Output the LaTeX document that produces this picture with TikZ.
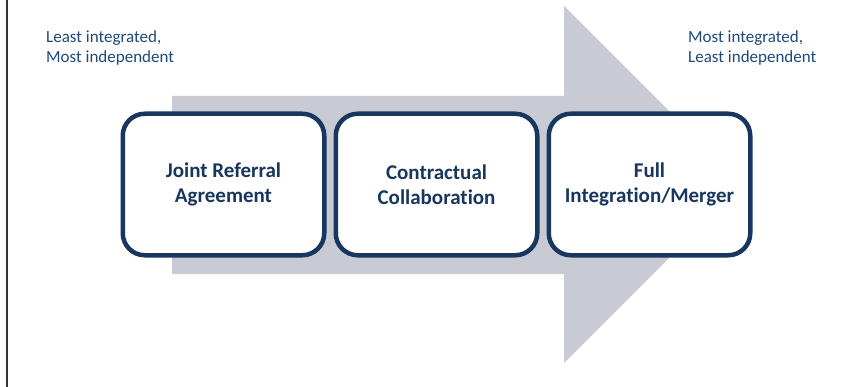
\documentclass[tikz,border=0pt]{standalone}
\usepackage{fontspec}
\setmainfont{Carlito}[Ligatures={NoCommon,TeX}]
\definecolor{navy}{RGB}{23,55,94}
\definecolor{txtblue}{RGB}{31,73,125}
\definecolor{arrowgray}{RGB}{201,203,212}
\tikzset{
  stagebox/.style={draw=navy, line width=4.5pt, fill=white, rounded corners=22pt,
    minimum width=201.5pt, minimum height=141.5pt, align=center, text=navy,
    font=\bfseries\fontsize{21}{25}\selectfont, inner sep=0pt},
  cornertext/.style={anchor=west, align=left, text=txtblue, inner sep=0pt,
    font=\fontsize{17}{20}\selectfont}
}
\begin{document}
\begin{tikzpicture}[x=1pt, y=-1pt]
\useasboundingbox (0,0) rectangle (866,387);
\fill[white] (0,0) rectangle (866,387);
\draw[black!80, line width=1.6pt] (7,0) -- (7,387);
\fill[arrowgray] (172,96) -- (564,96) -- (564,6) -- (742.5,184.5) -- (564,363) -- (564,274) -- (172,274) -- cycle;
\node[stagebox] (jra) at (223.5,184.5) {Joint Referral\\Agreement};
\node[stagebox] (cc) at (436.5,184.5) {Contractual\\Collaboration};
\node[stagebox] (fim) at (649.5,184.5) {Full\\Integration/Merger};
\node[cornertext] (least) at (46,48) {Least integrated,\\Most independent};
\node[cornertext] (most) at (688,48) {Most integrated,\\Least independent};
\end{tikzpicture}
\end{document}
